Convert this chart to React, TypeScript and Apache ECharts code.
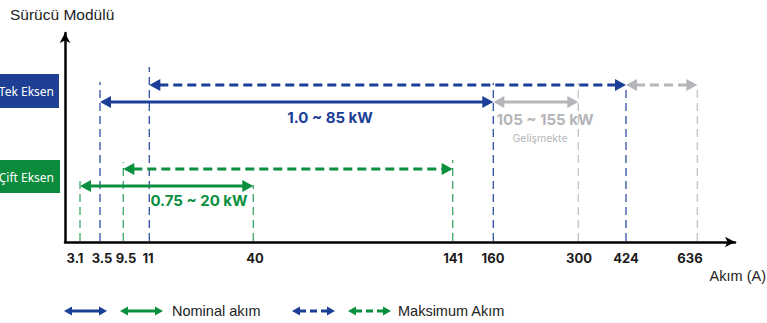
import React, { useEffect, useRef } from "react";
import * as echarts from "echarts";

// ---- data ----
const tickValues = [3.1, 3.5, 9.5, 11, 40, 141, 160, 300, 424, 636];
const tickLabels = ["3.1", "3.5", "9.5", "11", "40", "141", "160", "300", "424", "636"];

const singleNominal = [3.5, 160]; // Tek Eksen, 1.0 ~ 85 kW
const singleMax = [11, 424];
const devNominal = [160, 300]; // 105 ~ 155 kW (Gelişmekte)
const devMax = [424, 636];
const dualNominal = [3.1, 40]; // Çift Eksen, 0.75 ~ 20 kW
const dualMax = [9.5, 141];

const guideValues = [3.1, 3.5, 9.5, 11, 40, 141, 160, 300, 424, 636];
const guideGroups = ["green", "blue", "green", "blue", "green", "green", "blue", "gray", "blue", "gray"];

// ---- layout (not data) ----
const AXIS_LEN = 670;
const tickPos = [15, 35, 58.3, 84.3, 188.3, 387.7, 428.3, 513.3, 561, 632.3];
const labelPos = [10, 37, 61, 83, 190, 388, 428, 514, 561, 625];
const Y_MAX = 209;
const LVL_BLUE_MAX = 157;
const LVL_BLUE_NOM = 140;
const LVL_GREEN_MAX = 73;
const LVL_GREEN_NOM = 56;
const guideTops = [64, 160, 80, 175, 57, 82, 159, 159, 157, 157];

const BLUE = "#1b3f96";
const GREEN = "#0a8f3f";
const GRAY = "#b4b6b9";
const GUIDE_COL: Record<string, string> = { blue: "#2f4fa3", green: "#3aa563", gray: "#c2c4c6" };
const ARROW_COL: Record<string, string> = { blue: BLUE, green: GREEN, gray: GRAY };

function scale(v: number): number {
  for (let i = 0; i < tickValues.length - 1; i++) {
    const a = tickValues[i], b = tickValues[i + 1];
    if (v >= a && v <= b) {
      return tickPos[i] + ((v - a) / (b - a)) * (tickPos[i + 1] - tickPos[i]);
    }
  }
  return v < tickValues[0] ? tickPos[0] : tickPos[tickPos.length - 1];
}

const arrowData = [
  [scale(singleMax[0]), scale(singleMax[1]), LVL_BLUE_MAX, "blue", 1],
  [scale(singleNominal[0]), scale(singleNominal[1]), LVL_BLUE_NOM, "blue", 0],
  [scale(devNominal[0]), scale(devNominal[1]), LVL_BLUE_NOM, "gray", 0],
  [scale(devMax[0]), scale(devMax[1]), LVL_BLUE_MAX, "gray", 1],
  [scale(dualMax[0]), scale(dualMax[1]), LVL_GREEN_MAX, "green", 1],
  [scale(dualNominal[0]), scale(dualNominal[1]), LVL_GREEN_NOM, "green", 0],
];

const guideData = guideValues.map((v, i) => [scale(v), guideTops[i], guideGroups[i]]);

const HEAD_L = 11;
const HEAD_W = 6;

function arrowShapes(x1: number, x2: number, y: number, color: string, dashed: boolean, hl: number, hw: number, lw: number, dash?: number[]) {
  return [
    {
      type: "line",
      shape: { x1: x1 + hl - 1, y1: y, x2: x2 - hl + 1, y2: y },
      style: { stroke: color, lineWidth: lw, lineDash: dashed ? dash || [9, 5] : null },
    },
    {
      type: "polygon",
      shape: { points: [[x1, y], [x1 + hl, y - hw], [x1 + hl, y + hw]] },
      style: { fill: color },
    },
    {
      type: "polygon",
      shape: { points: [[x2, y], [x2 - hl, y - hw], [x2 - hl, y + hw]] },
      style: { fill: color },
    },
  ];
}

const SANS = "'Liberation Sans', Arial, sans-serif";
const NUM = "Inter, 'Noto Sans', sans-serif";

export default function App() {
  const ref = useRef<HTMLDivElement>(null);
  useEffect(() => {
    if (!ref.current) return;
    const chart = echarts.init(ref.current, null, { renderer: "svg" });
    const legendY = 311;
    const legend: any[] = [
      ...arrowShapes(64, 107, legendY, BLUE, false, 8, 4.5, 3),
      ...arrowShapes(120, 163, legendY, GREEN, false, 8, 4.5, 3),
      ...arrowShapes(292, 335, legendY, BLUE, true, 8, 4.5, 3, [7, 4]),
      ...arrowShapes(348, 391, legendY, GREEN, true, 8, 4.5, 3, [7, 4]),
    ];
    chart.setOption({
      animation: false,
      grid: { left: 65, top: 33, width: AXIS_LEN, height: Y_MAX, containLabel: false },
      xAxis: {
        type: "value",
        min: 0,
        max: AXIS_LEN,
        splitLine: { show: false },
        axisTick: { show: false },
        axisLine: {
          show: true,
          onZero: false,
          lineStyle: { color: "#000", width: 2.5 },
          symbol: ["none", "arrow"],
          symbolSize: [8, 10],
          symbolOffset: [0, 0],
        },
        axisLabel: {
          customValues: labelPos,
          formatter: (v: number) => {
            const i = labelPos.findIndex((p) => Math.abs(p - v) < 0.01);
            return i >= 0 ? tickLabels[i] : "";
          },
          color: "#1a1a1a",
          fontWeight: "bold",
          fontSize: 13,
          fontFamily: NUM,
          margin: 9,
          showMinLabel: true,
          showMaxLabel: true,
        },
      },
      yAxis: {
        type: "value",
        min: 0,
        max: Y_MAX,
        splitLine: { show: false },
        axisTick: { show: false },
        axisLabel: { show: false },
        axisLine: {
          show: true,
          onZero: false,
          lineStyle: { color: "#000", width: 2.5 },
          symbol: ["none", "arrow"],
          symbolSize: [8, 10],
        },
      },
      series: [
        {
          type: "custom",
          name: "guides",
          data: guideData,
          encode: { x: 0, y: 1 },
          renderItem: (params: any, api: any) => {
            const x = api.value(0);
            const top = api.value(1);
            const g = guideGroups[params.dataIndex];
            const p0 = api.coord([x, 0]);
            const p1 = api.coord([x, top]);
            return {
              type: "line",
              shape: { x1: p0[0], y1: p0[1] - 1, x2: p1[0], y2: p1[1] },
              style: { stroke: GUIDE_COL[g], lineWidth: 1.3, lineDash: [8, 5] },
            };
          },
          z: 1,
        },
        {
          type: "custom",
          name: "arrows",
          data: arrowData,
          encode: { x: [0, 1], y: 2 },
          renderItem: (params: any, api: any) => {
            const d = arrowData[params.dataIndex];
            const a = api.coord([d[0], d[2]]);
            const b = api.coord([d[1], d[2]]);
            return {
              type: "group",
              children: arrowShapes(a[0], b[0], a[1], ARROW_COL[d[3] as string], d[4] === 1, HEAD_L, HEAD_W, 3),
            };
          },
          z: 2,
        },
      ],
      graphic: [
        {
          type: "text",
          left: 10,
          top: 6,
          style: { text: "Sürücü Modülü", font: `15.5px ${SANS}`, fill: "#222" },
        },
        {
          type: "rect",
          shape: { x: 0, y: 74, width: 59, height: 34 },
          style: { fill: "#1d3f94" },
        },
        {
          type: "text",
          x: 54,
          y: 91,
          style: { text: "Tek Eksen", font: `12px 'Noto Sans', sans-serif`, fill: "#fff", textAlign: "right", textVerticalAlign: "middle" },
        },
        {
          type: "rect",
          shape: { x: 0, y: 160, width: 60, height: 33 },
          style: { fill: "#0b8c3c" },
        },
        {
          type: "text",
          x: 54,
          y: 177,
          style: { text: "Çift Eksen", font: `12px 'Noto Sans', sans-serif`, fill: "#fff", textAlign: "right", textVerticalAlign: "middle" },
        },
        {
          type: "text",
          x: 330,
          y: 117,
          style: { text: "1.0 ~ 85 kW", font: `bold 15px ${NUM}`, fill: BLUE, textAlign: "center", textVerticalAlign: "middle" },
        },
        {
          type: "text",
          x: 545,
          y: 119,
          style: { text: "105 ~ 155 kW", font: `bold 15px ${NUM}`, fill: GRAY, textAlign: "center", textVerticalAlign: "middle" },
        },
        {
          type: "text",
          x: 540,
          y: 138,
          style: { text: "Gelişmekte", font: `10.5px ${NUM}`, fill: GRAY, textAlign: "center", textVerticalAlign: "middle" },
        },
        {
          type: "text",
          x: 199,
          y: 200,
          style: { text: "0.75 ~ 20 kW", font: `bold 15px ${NUM}`, fill: GREEN, textAlign: "center", textVerticalAlign: "middle" },
        },
        {
          type: "text",
          x: 766,
          y: 276,
          style: { text: "Akım (A)", font: `14.5px ${SANS}`, fill: "#222", textAlign: "right", textVerticalAlign: "middle" },
        },
        ...legend,
        {
          type: "text",
          x: 172,
          y: legendY,
          style: { text: "Nominal akım", font: `14.5px ${SANS}`, fill: "#222", textVerticalAlign: "middle" },
        },
        {
          type: "text",
          x: 398,
          y: legendY,
          style: { text: "Maksimum Akım", font: `14.5px ${SANS}`, fill: "#222", textVerticalAlign: "middle" },
        },
      ],
    });
    return () => chart.dispose();
  }, []);
  return <div ref={ref} style={{ width: 767, height: 323, position: "absolute", left: 0, top: 0 }} />;
}
